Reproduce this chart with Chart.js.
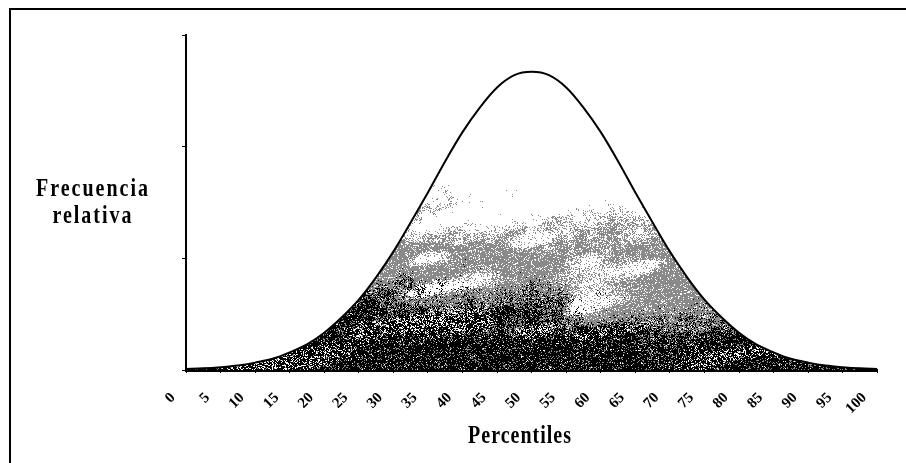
<!DOCTYPE html>
<html>
<head>
<meta charset="utf-8">
<script src="https://cdn.jsdelivr.net/npm/chart.js@4/dist/chart.umd.min.js"></script>
<style>
  html,body{margin:0;padding:0;background:#fff;}
  #wrap{width:906px;height:463px;}
</style>
</head>
<body>
<div id="wrap"><canvas id="chart" width="906" height="463"></canvas></div>
<script>
// ---- data ----
const percentiles=[0,2.5,5,7.5,10,12.5,15,17.5,20,22.5,25,27.5,30,32.5,35,37.5,40,42.5,45,47.5,50,
  52.5,55,57.5,60,62.5,65,67.5,70,72.5,75,77.5,80,82.5,85,87.5,90,92.5,95,97.5,100];
const frecuencia=[0.01,0.015,0.025,0.04,0.066,0.10,0.158,0.23,0.334,0.47,0.63,0.83,1.06,1.32,1.59,1.87,2.13,2.35,2.53,2.64,2.67,
  2.64,2.53,2.35,2.13,1.87,1.59,1.32,1.06,0.83,0.63,0.47,0.334,0.23,0.158,0.10,0.066,0.04,0.025,0.015,0.01];
const xTickLabels=[0,5,10,15,20,25,30,35,40,45,50,55,60,65,70,75,80,85,90,95,100];
const yTicks=[0,1,2,3];
const yTitle=['Frecuencia','relativa'];
const xTitle='Percentiles';

// ---- speckled "granite" fill texture (style only) ----
function hash2(ix,iy){
  let h=Math.imul(ix,374761393)^Math.imul(iy,668265263);
  h=Math.imul(h^(h>>>13),1274126177); h^=h>>>16;
  return (h>>>0)/4294967296;
}
function vnoise(x,y,s,seed){
  const gx=x/s,gy=y/s,ix=Math.floor(gx),iy=Math.floor(gy),fx=gx-ix,fy=gy-iy;
  const ux=fx*fx*(3-2*fx),uy=fy*fy*(3-2*fy),o=seed*1013;
  const a=hash2(ix+o,iy),b=hash2(ix+1+o,iy),c=hash2(ix+o,iy+1),d=hash2(ix+1+o,iy+1);
  return a+(b-a)*ux+(c-a)*uy+(a-b-c+d)*ux*uy;
}
function smooth(e0,e1,v){const t=Math.min(1,Math.max(0,(v-e0)/(e1-e0)));return t*t*(3-2*t);}
function makeTexture(w,h){
  const c=document.createElement('canvas'); c.width=w; c.height=h;
  const g=c.getContext('2d'), img=g.createImageData(w,h), px=img.data;
  for(let y=0;y<h;y++) for(let x=0;x<w;x++){
    // slanted bands, darker toward the axis
    const sy=y+0.18*(x-450);
    const base=(y-198-0.06*(x-400))/150;
    const n=0.5*vnoise(x*0.5,sy*1.5,30,1)+0.3*vnoise(x,y,10,2)+0.2*vnoise(x,y,4,4)-0.5;
    const L=base+0.55*n, r=hash2(x*7+3,y*13+5);
    const hole=smooth(0.55,0.85,vnoise(x*0.45,sy*1.6,24,3))*(L<0.7?0.85:0.3);
    const pBlack=Math.min(0.82,smooth(0.5,1.0,L)), pGray=0.85*smooth(0.0,0.34,L)*(1-hole);
    let v=255; if(r<pBlack*(1-hole*0.7)) v=0; else if(r<pGray+pBlack*0.15) v=138;
    const i=(y*w+x)*4; px[i]=px[i+1]=px[i+2]=v; px[i+3]=255;
  }
  g.putImageData(img,0,0);
  return c;
}

const canvas=document.getElementById('chart');
const ctx=canvas.getContext('2d');
const pattern=ctx.createPattern(makeTexture(906,463),'no-repeat');

const framePlugin={id:'frame',beforeDraw(chart){
  const c=chart.ctx; c.save(); c.fillStyle='#fff'; c.fillRect(0,0,chart.width,chart.height);
  c.strokeStyle='#000'; c.lineWidth=2; c.strokeRect(10,9,chart.width+10,chart.height+10); c.restore();
}};
function stretchedText(c,txt,x,y){
  c.save(); c.translate(x,y); c.scale(1,1.25); c.fillText(txt,0,0); c.restore();
}
const titlePlugin={id:'titles',afterDraw(chart){
  const c=chart.ctx; c.save(); c.fillStyle='#000'; c.textAlign='center'; c.textBaseline='alphabetic';
  c.font="bold 20px 'Liberation Serif'"; c.letterSpacing='2px';
  stretchedText(c,yTitle[0],93,196); stretchedText(c,yTitle[1],93,223);
  c.letterSpacing='1px';
  stretchedText(c,xTitle,520,443);
  c.restore();
}};

new Chart(ctx,{type:'line',
  data:{datasets:[{data:percentiles.map((p,i)=>({x:p,y:frecuencia[i]})),borderColor:'#000',borderWidth:2,
    backgroundColor:pattern,fill:'origin',pointRadius:0,cubicInterpolationMode:'monotone'}]},
  options:{responsive:false,animation:false,layout:{padding:{top:35,right:23,left:0,bottom:0}},
    plugins:{legend:{display:false},tooltip:{enabled:false}},
    scales:{
      x:{type:'linear',min:0,max:100,
        afterBuildTicks:s=>{s.ticks=xTickLabels.map(v=>({value:v}));},
        afterFit:s=>{s.height=93;},
        border:{color:'#000',width:3},
        grid:{drawOnChartArea:false,color:'#000',tickLength:3},
        ticks:{autoSkip:false,minRotation:45,maxRotation:45,padding:16,labelOffset:-13,color:'#000',
          font:{family:"'Liberation Serif'",weight:'bold',size:15}}},
      y:{min:0,max:3,
        afterBuildTicks:s=>{s.ticks=yTicks.map(v=>({value:v}));},
        afterFit:s=>{s.width=186;},
        border:{color:'#000',width:2},
        grid:{drawOnChartArea:false,color:'#000',tickLength:4},
        ticks:{display:false}}
    }},
  plugins:[framePlugin,titlePlugin]});
</script>
</body>
</html>
